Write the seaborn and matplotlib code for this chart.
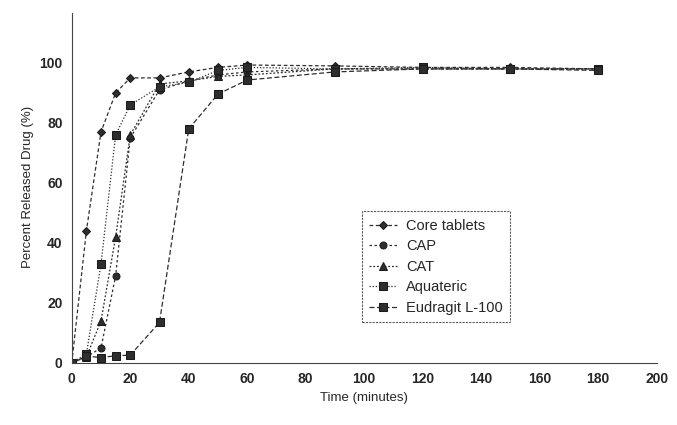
import pandas as pd
import matplotlib
matplotlib.use("Agg")
import matplotlib.pyplot as plt
import seaborn as sns

time_min = [0, 5, 10, 15, 20, 30, 40, 50, 60, 90, 120, 150, 180]
core_tablets = [0, 44, 77, 90, 95, 95, 97, 98.5, 99.3, 99, 98.5, 98.5, 98]
cap = [0, 2, 5, 29, 75, 91, 94, 96, 97, 98, 98, 98, 98]
cat = [0, 2, 14, 42, 76, 93, 94, 95.5, 96, 98, 98, 98, 98]
aquateric = [0, 3, 33, 76, 86, 92, 93.5, 97.5, 98.5, 98, 98.5, 98, 98]
eudragit = [0, 2.3, 1.8, 2.4, 2.6, 13.5, 78, 89.6, 94.3, 97, 98, 98, 97.5]

series_names = ["Core tablets", "CAP", "CAT", "Aquateric", "Eudragit L-100"]
series_vals = [core_tablets, cap, cat, aquateric, eudragit]

rows = []
for name, vals in zip(series_names, series_vals):
    for t, v in zip(time_min, vals):
        rows.append({"Time": t, "Release": v, "Formulation": name})
df = pd.DataFrame(rows)

sns.set_style("white")
plt.rcParams["font.family"] = ["Liberation Sans", "DejaVu Sans"]

markers = ["D", "o", "^", "s", "s"]
sizes = [4.5, 5, 5.5, 5.5, 6]
dashes = [(3, 2), (2, 2), (1.5, 1.5), (1, 1.5), (4, 2)]

fig, ax = plt.subplots(figsize=(6.77, 4.25), dpi=100)
fig.subplots_adjust(left=0.106, right=0.97, bottom=0.146, top=0.972)

for name, m, s, d in zip(series_names, markers, sizes, dashes):
    sub = df[df["Formulation"] == name]
    sns.lineplot(data=sub, x="Time", y="Release", ax=ax, label=name,
                 color="#2e2e2e", marker=m, markersize=s, linewidth=0.9,
                 dashes=False, markeredgecolor="#1a1a1a")
    ax.lines[-1].set_dashes(d)

ax.set_xlim(0, 200)
ax.set_ylim(0, 117)
ax.set_xticks(range(0, 201, 20))
ax.set_yticks(range(0, 101, 20))
ax.tick_params(axis="both", labelsize=10, length=3, direction="out", color="#555")
for lab in ax.get_xticklabels() + ax.get_yticklabels():
    lab.set_fontweight("bold")
ax.set_xlabel("Time (minutes)", fontsize=9.5)
ax.set_ylabel("Percent Released Drug (%)", fontsize=9.5)

for side in ["top", "right"]:
    ax.spines[side].set_visible(False)
for side in ["left", "bottom"]:
    ax.spines[side].set_linestyle((0, (1, 1)))
    ax.spines[side].set_color("#444")
    ax.spines[side].set_linewidth(0.8)
ax.spines["left"].set_bounds(0, 117)

leg = ax.legend(loc="lower left", bbox_to_anchor=(0.484, 0.095), fontsize=10.5,
                frameon=True, fancybox=False, handlelength=1.9,
                borderpad=0.5, labelspacing=0.45, handletextpad=0.6)
leg.get_frame().set_edgecolor("#333")
leg.get_frame().set_linestyle((0, (2, 1)))
leg.get_frame().set_linewidth(0.8)

fig.savefig("out.png", dpi=100)
